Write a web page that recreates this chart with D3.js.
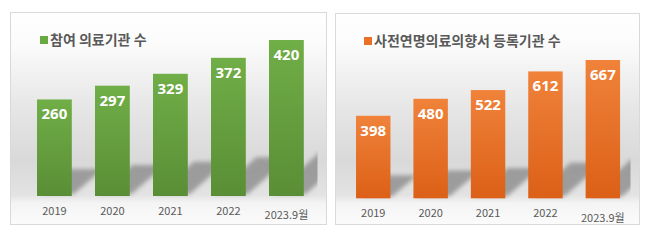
<!DOCTYPE html>
<html>
<head>
<meta charset="utf-8">
<title>참여 의료기관 수 / 사전연명의료의향서 등록기관 수</title>
<style>
  body { margin: 0; background: #fff; }
  svg { display: block; }
</style>
<script src="https://cdn.jsdelivr.net/npm/d3@7"></script>
</head>
<body>
<svg width="648" height="248"></svg>
<script>
var years = ["2019", "2020", "2021", "2022", "2023.9월"];
var participants = [260, 297, 329, 372, 420];
var registered = [398, 480, 522, 612, 667];
var titles = ["참여 의료기관 수", "사전연명의료의향서 등록기관 수"];

var svg = d3.select("svg");
var defs = svg.append("defs");

// panel background: white -> light grey band -> white
var bg = defs.append("linearGradient").attr("id", "bg")
    .attr("x1", 0).attr("y1", 0).attr("x2", 0).attr("y2", 1);
[[0, "#ffffff"], [0.15, "#fbfbfb"], [0.45, "#e6e6e6"], [0.7, "#d9d9d9"],
 [0.86, "#e3e3e3"], [0.9, "#f4f4f4"], [1, "#fbfbfb"]].forEach(function(s) {
  bg.append("stop").attr("offset", s[0]).attr("stop-color", s[1]);
});

function barGrad(id, top, bottom) {
  var g = defs.append("linearGradient").attr("id", id)
      .attr("x1", 0).attr("y1", 0).attr("x2", 0).attr("y2", 1);
  g.append("stop").attr("offset", 0).attr("stop-color", top);
  g.append("stop").attr("offset", 1).attr("stop-color", bottom);
}
barGrad("green", "#70ae47", "#5a8e36");
barGrad("orange", "#f0823a", "#dc6017");

defs.append("filter").attr("id", "blur")
    .attr("x", "-50%").attr("y", "-50%").attr("width", "200%").attr("height", "200%")
  .append("feGaussianBlur").attr("stdDeviation", 2.2);

var panels = [
  {id: "p0", title: titles[0], values: participants, fill: "url(#green)", key: "#6aa842",
   box: [10.5, 12.5, 316, 212], xr: [19.6, 321.2], yr: [196, 40], ymax: 420,
   titleX: 40, titleY: 40, labelY: 215, lastDy: 4},
  {id: "p1", title: titles[1], values: registered, fill: "url(#orange)", key: "#ea7028",
   box: [335.5, 13.5, 304, 211], xr: [338.8, 637.3], yr: [198.3, 60], ymax: 667,
   titleX: 364, titleY: 41, labelY: 217, lastDy: 5}
];

panels.forEach(function(p) {
  var g = svg.append("g");
  var b = p.box;

  g.append("rect")
      .attr("x", b[0]).attr("y", b[1]).attr("width", b[2]).attr("height", b[3])
      .attr("fill", "url(#bg)")
      .attr("stroke", "#d9d9d9").attr("stroke-width", 1);

  defs.append("clipPath").attr("id", "clip-" + p.id)
    .append("rect").attr("x", b[0] + 1).attr("y", b[1] + 1)
      .attr("width", b[2] - 10).attr("height", b[3] - 2);

  var x = d3.scaleBand().domain(years).range(p.xr).paddingInner(0.4).paddingOuter(0.3);
  var y = d3.scaleLinear().domain([0, p.ymax]).range(p.yr);
  var data = years.map(function(d, i) { return {year: d, value: p.values[i]}; });
  var base = y(0);

  // perspective shadows on the floor
  g.append("g").attr("clip-path", "url(#clip-" + p.id + ")")
    .selectAll("path").data(data).enter().append("path")
      .attr("d", function(d) {
        var x0 = x(d.year) + 4, x1 = x(d.year) + x.bandwidth() + 2;
        var h = base - y(d.value);
        var dx = 0.3 * h, dy = 0.28 * h;
        return "M" + x0 + "," + (base - 2) + "L" + x1 + "," + (base - 2) +
               "L" + (x1 + dx) + "," + (base - dy) + "L" + (x0 + dx) + "," + (base - dy) + "Z";
      })
      .attr("fill", "#8c8c8c")
      .attr("opacity", 0.8)
      .attr("filter", "url(#blur)");

  g.append("g").selectAll("rect").data(data).enter().append("rect")
      .attr("x", function(d) { return x(d.year); })
      .attr("y", function(d) { return y(d.value); })
      .attr("width", x.bandwidth())
      .attr("height", function(d) { return base - y(d.value); })
      .attr("fill", p.fill);

  g.append("g").selectAll("text").data(data).enter().append("text")
      .attr("x", function(d) { return x(d.year) + x.bandwidth() / 2; })
      .attr("y", function(d) { return y(d.value) + 20; })
      .attr("text-anchor", "middle")
      .attr("fill", "#fff")
      .style("font", "bold 15px 'Noto Sans', 'DejaVu Sans', sans-serif")
      .text(function(d) { return d.value; });

  g.append("g").selectAll("text").data(data).enter().append("text")
      .attr("x", function(d) { return x(d.year) + x.bandwidth() / 2; })
      .attr("y", function(d, i) { return p.labelY + (i === years.length - 1 ? p.lastDy : 0); })
      .attr("text-anchor", "middle")
      .attr("fill", "#595959")
      .style("font", "11px 'Noto Sans CJK KR', 'Noto Sans', sans-serif")
      .text(function(d) { return d.year; });

  // legend / title
  g.append("rect")
      .attr("x", p.titleX).attr("y", p.titleY - 4)
      .attr("width", 8).attr("height", 8)
      .attr("fill", p.key);
  g.append("text")
      .attr("x", p.titleX + 10).attr("y", p.titleY + 5)
      .attr("fill", "#595959")
      .style("font", "bold 14px 'Noto Sans CJK KR', sans-serif")
      .text(p.title);
});
</script>
</body>
</html>
